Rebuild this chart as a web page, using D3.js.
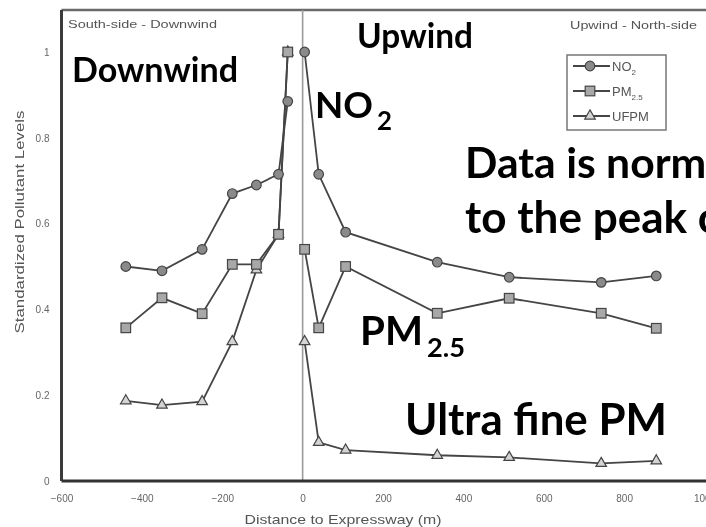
<!DOCTYPE html>
<html>
<head>
<meta charset="utf-8">
<script src="https://cdn.jsdelivr.net/npm/d3@7/dist/d3.min.js"></script>
<style>
  html, body { margin: 0; padding: 0; background: #fff; }
  svg { display: block; }
</style>
</head>
<body>
<svg id="chart" width="706" height="527"></svg>
<script>
// Distances from the expressway (m); negative = south side (downwind)
const downwindDistance = [-440, -350, -250, -175, -115, -60, -37];
const upwindDistance   = [5, 40, 107, 335, 514, 743, 880];

// Standardized pollutant levels (each series divided by its own peak)
const no2Downwind  = [0.50, 0.49, 0.54, 0.67, 0.69, 0.715, 0.885];
const no2Upwind    = [1.00, 0.715, 0.58, 0.51, 0.475, 0.463, 0.478];
const pm25Downwind = [0.357, 0.427, 0.39, 0.505, 0.505, 0.575, 1.00];
const pm25Upwind   = [0.54, 0.357, 0.50, 0.391, 0.426, 0.391, 0.356];
const ufpmDownwind = [0.187, 0.177, 0.185, 0.325, 0.492, 0.575, 1.00];
const ufpmUpwind   = [0.325, 0.09, 0.072, 0.06, 0.055, 0.041, 0.047];

const xTicks = [-600, -400, -200, 0, 200, 400, 600, 800, 1000];
const yTicks = [0, 0.2, 0.4, 0.6, 0.8, 1];

const seriesNames = ["NO2", "PM2.5", "UFPM"];

const svg = d3.select("#chart");

const x = d3.scaleLinear().domain([-600, 1000]).range([61.5, 704.5]);
const y = d3.scaleLinear().domain([0, 1]).range([481, 52]);
const frameTop = 10;

// soft print look for the plotted figure
const defs = svg.append("defs");
defs.append("filter").attr("id", "soft")
  .attr("x", "-5%").attr("y", "-5%").attr("width", "110%").attr("height", "110%")
  .append("feGaussianBlur").attr("stdDeviation", 0.7);

const fig = svg.append("g").attr("filter", "url(#soft)");

// frame
fig.append("line").attr("x1", x(-600)).attr("x2", 720)
  .attr("y1", frameTop).attr("y2", frameTop)
  .attr("stroke", "#6a6a6a").attr("stroke-width", 2.5);
fig.append("line").attr("x1", x(-600)).attr("x2", x(-600))
  .attr("y1", frameTop).attr("y2", y(0))
  .attr("stroke", "#3a3a3a").attr("stroke-width", 3);

// road centre line
fig.append("line").attr("x1", x(0)).attr("x2", x(0))
  .attr("y1", frameTop).attr("y2", y(0))
  .attr("stroke", "#9a9a9a").attr("stroke-width", 1.6);

// axes
const xAxis = fig.append("g").attr("transform", `translate(0,${y(0)})`)
  .call(d3.axisBottom(x).tickValues(xTicks).tickSize(0).tickPadding(14)
    .tickFormat(d3.format("d")));
xAxis.select(".domain").attr("stroke", "#333").attr("stroke-width", 3)
  .attr("d", `M${x(-600)},0H720`);
xAxis.selectAll("text").attr("fill", "#666").attr("font-family", "Liberation Sans, Arial, sans-serif")
  .attr("font-size", 10);

const yAxis = fig.append("g").attr("transform", `translate(${x(-600)},0)`)
  .call(d3.axisLeft(y).tickValues(yTicks).tickSize(0).tickPadding(12)
    .tickFormat(d => (d === 0 || d === 1) ? String(d) : d3.format(".1f")(d)));
yAxis.select(".domain").remove();
yAxis.selectAll("text").attr("fill", "#666").attr("font-family", "Liberation Sans, Arial, sans-serif")
  .attr("font-size", 10);

// axis titles
fig.append("text").attr("x", 343).attr("y", 524)
  .attr("text-anchor", "middle").attr("fill", "#555")
  .attr("font-family", "Liberation Sans, Arial, sans-serif").attr("font-size", 13)
  .attr("textLength", 197).attr("lengthAdjust", "spacingAndGlyphs")
  .text("Distance to Expressway (m)");
fig.append("text").attr("transform", "translate(24,222) rotate(-90)")
  .attr("text-anchor", "middle").attr("fill", "#555")
  .attr("font-family", "Liberation Sans, Arial, sans-serif").attr("font-size", 12)
  .attr("textLength", 223).attr("lengthAdjust", "spacingAndGlyphs")
  .text("Standardized Pollutant Levels");

// side captions
fig.append("text").attr("x", 68).attr("y", 28).attr("fill", "#555")
  .attr("font-family", "Liberation Sans, Arial, sans-serif").attr("font-size", 11)
  .attr("textLength", 149).attr("lengthAdjust", "spacingAndGlyphs")
  .text("South-side - Downwind");
fig.append("text").attr("x", 570).attr("y", 29).attr("fill", "#555")
  .attr("font-family", "Liberation Sans, Arial, sans-serif").attr("font-size", 11)
  .attr("textLength", 127).attr("lengthAdjust", "spacingAndGlyphs")
  .text("Upwind - North-side");

// series
const line = d3.line().x(d => x(d[0])).y(d => y(d[1]));
const zip = (xs, ys) => xs.map((v, i) => [v, ys[i]]);

const series = [
  { name: "UFPM",  marker: "triangle", fill: "#d4d4d4",
    parts: [zip(downwindDistance, ufpmDownwind), zip(upwindDistance, ufpmUpwind)] },
  { name: "PM2.5", marker: "square",   fill: "#a8a8a8",
    parts: [zip(downwindDistance, pm25Downwind), zip(upwindDistance, pm25Upwind)] },
  { name: "NO2",   marker: "circle",   fill: "#8a8a8a",
    parts: [zip(downwindDistance, no2Downwind), zip(upwindDistance, no2Upwind)] }
];

function drawMarker(g, type, fill) {
  if (type === "circle") {
    g.append("circle").attr("r", 4.8).attr("fill", fill).attr("stroke", "#444").attr("stroke-width", 1.2);
  } else if (type === "square") {
    g.append("rect").attr("x", -4.8).attr("y", -4.8).attr("width", 9.6).attr("height", 9.6)
      .attr("fill", fill).attr("stroke", "#444").attr("stroke-width", 1.2);
  } else {
    g.append("path").attr("d", d3.symbol(d3.symbolTriangle, 48)())
      .attr("fill", fill).attr("stroke", "#444").attr("stroke-width", 1.2);
  }
}

series.forEach(s => {
  const g = fig.append("g");
  s.parts.forEach(pts => {
    g.append("path").attr("d", line(pts)).attr("fill", "none")
      .attr("stroke", "#444").attr("stroke-width", 1.8);
  });
  s.parts.forEach(pts => {
    pts.forEach(p => {
      const m = g.append("g").attr("transform", `translate(${x(p[0])},${y(p[1])})`);
      drawMarker(m, s.marker, s.fill);
    });
  });
});

// legend
const legend = fig.append("g");
legend.append("rect").attr("x", 567).attr("y", 55).attr("width", 99).attr("height", 75)
  .attr("fill", "#fff").attr("stroke", "#777").attr("stroke-width", 1.5);
const legendItems = [
  { main: "NO", sub: "2", marker: "circle", fill: "#8a8a8a" },
  { main: "PM", sub: "2.5", marker: "square", fill: "#a8a8a8" },
  { main: "UFPM", sub: "", marker: "triangle", fill: "#d4d4d4" }
];
legendItems.forEach((it, i) => {
  const cy = 66 + i * 25;
  legend.append("line").attr("x1", 573).attr("x2", 610).attr("y1", cy).attr("y2", cy)
    .attr("stroke", "#444").attr("stroke-width", 1.8);
  const m = legend.append("g").attr("transform", `translate(590,${cy})`);
  drawMarker(m, it.marker, it.fill);
  const t = legend.append("text").attr("x", 612).attr("y", cy + 5).attr("fill", "#555")
    .attr("font-family", "Liberation Sans, Arial, sans-serif").attr("font-size", 13);
  t.append("tspan").text(it.main);
  if (it.sub) t.append("tspan").attr("font-size", 8).attr("dy", 4).text(it.sub);
});

// bold annotations
const annoFont = "Lato, 'Open Sans', sans-serif";
function fitText(txt, fitPart, targetWidth, xPos, baseline, clip) {
  const probe = svg.append("text").attr("font-family", annoFont).attr("font-weight", 700)
    .attr("font-size", 40).text(fitPart);
  const w = probe.node().getComputedTextLength();
  probe.remove();
  const size = 40 * targetWidth / w;
  return svg.append("text").attr("x", xPos).attr("y", baseline)
    .attr("font-family", annoFont).attr("font-weight", 700)
    .attr("font-size", size).attr("fill", "#000").text(txt);
}

fitText("Downwind", "Downwind", 166, 72, 82);
fitText("Upwind", "Upwind", 116, 357, 48);
fitText("NO", "NO", 58, 315, 118);
fitText("2", "2", 15, 377, 130);
fitText("PM", "PM", 63, 360, 345);
fitText("2.5", "2.5", 38, 427, 357);
fitText("Ultra fine PM", "Ultra fine PM", 262, 405, 435);
fitText("Data is normalized", "Data i", 112, 465, 178);
fitText("to the peak concentration", "to the", 117, 465, 233);
</script>
</body>
</html>
